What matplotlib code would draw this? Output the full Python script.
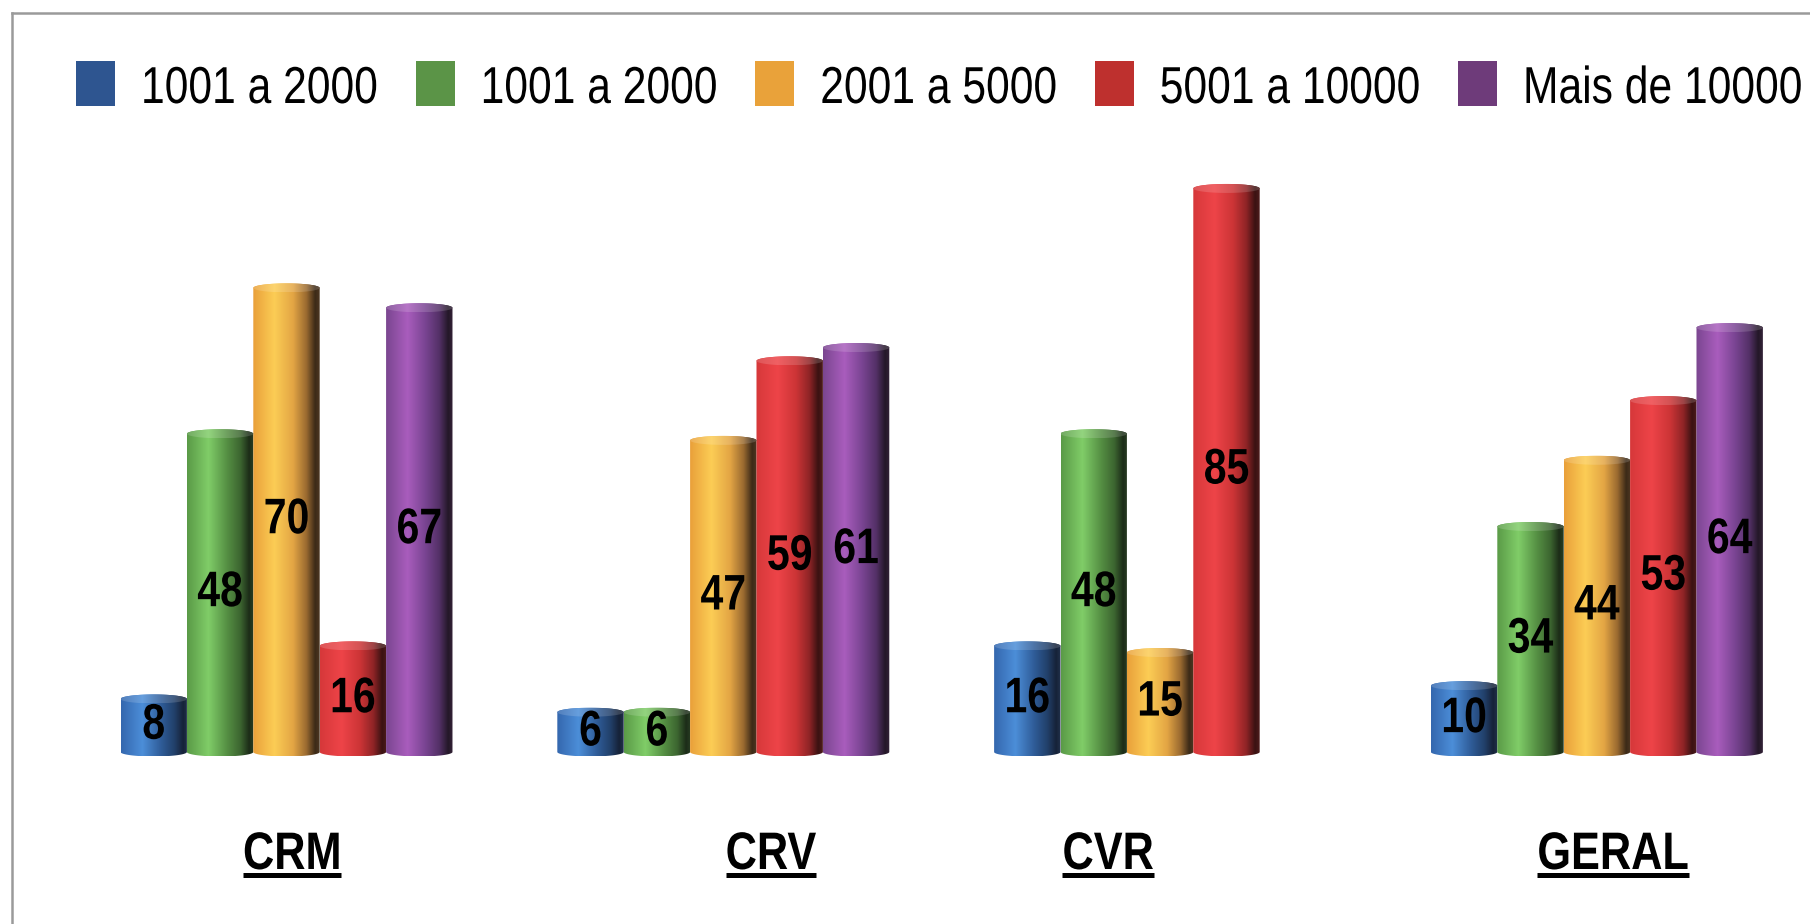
import numpy as np
import matplotlib
matplotlib.use("Agg")
import matplotlib.pyplot as plt
from matplotlib import font_manager
from matplotlib.font_manager import FontProperties
from matplotlib.path import Path
from matplotlib.patches import PathPatch, Rectangle
from matplotlib.lines import Line2D
from matplotlib.colors import to_rgb
from matplotlib.patheffects import AbstractPathEffect
from matplotlib.transforms import Affine2D

# ---- data -------------------------------------------------------------
categories = ["CRM", "CRV", "CVR", "GERAL"]
series_labels = ["1001 a 2000", "1001 a 2000", "2001 a 5000", "5001 a 10000", "Mais de 10000"]
v_1001_2000_a = [8, 6, 16, 10]
v_1001_2000_b = [48, 6, 48, 34]
v_2001_5000 = [70, 47, 15, 44]
v_5001_10000 = [16, 59, 85, 53]
v_mais_10000 = [67, 61, None, 64]
series_values = [v_1001_2000_a, v_1001_2000_b, v_2001_5000, v_5001_10000, v_mais_10000]

# ---- style ------------------------------------------------------------
legend_colors = ["#2E5590", "#5B9447", "#E9A23A", "#BE302E", "#6E3B7A"]
# horizontal shading of each cylinder: (position, colour) stops
shading = [
    [(0.0, "#3467AE"), (0.32, "#4C8ED8"), (0.6, "#2F5C98"), (0.8, "#22406A"), (0.93, "#162238"), (1.0, "#22324C")],
    [(0.0, "#5A9A47"), (0.32, "#80CD68"), (0.6, "#558F43"), (0.8, "#3C6530"), (0.93, "#1C2C18"), (1.0, "#2A3E24")],
    [(0.0, "#E9A03A"), (0.32, "#FCCD55"), (0.6, "#E3A544"), (0.8, "#9A6A30"), (0.93, "#3C2A18"), (1.0, "#4E3822")],
    [(0.0, "#D6383A"), (0.32, "#EE4448"), (0.6, "#CC3436"), (0.8, "#8E2426"), (0.93, "#3A1212"), (1.0, "#4E1C1C")],
    [(0.0, "#7A4690"), (0.32, "#A95DBD"), (0.6, "#774390"), (0.8, "#533066"), (0.93, "#241828"), (1.0, "#342238")],
]
label_shift = [0.013, 0.109, -0.119, 0.037]

# Narrow sans face; without one, a smaller Liberation Sans is drawn with
# taller glyphs so that it keeps the proportions of a narrow face.
available = {f.name for f in font_manager.fontManager.ttflist}
family, narrow = "Liberation Sans", 0.82
for cand in ["Liberation Sans Narrow", "Arial Narrow"]:
    if cand in available:
        family, narrow = cand, 1.0
        break


class TallGlyphs(AbstractPathEffect):
    """Stretch glyph outlines vertically about the text baseline."""

    def __init__(self, k):
        super().__init__()
        self.k = k

    def draw_path(self, renderer, gc, tpath, affine, rgbFace=None):
        renderer.draw_path(gc, tpath, Affine2D().scale(1, self.k) + affine, rgbFace)


tall = [TallGlyphs(1 / narrow)]


def font(size, weight="normal"):
    return FontProperties(family=family, weight=weight, size=size * narrow)


W, H = 1810, 924
fig = plt.figure(figsize=(W / 100, H / 100), dpi=100)
ax = fig.add_axes([0, 0, 1, 1])
ax.set_axis_off()

group_px, unit_px = 436.8, 6.63
x0_px, zero_px = 286.5, 752.0
xlim = (-x0_px / group_px, (W - x0_px) / group_px)
ylim = (-(H - zero_px) / unit_px, zero_px / unit_px)

bar_w = 0.152
ell = 4.5 / unit_px  # half-height of the cylinder ellipses


def profile(stops, lighten=0.0, n=256):
    pos = np.array([s[0] for s in stops])
    cols = np.array([to_rgb(s[1]) for s in stops])
    t = np.linspace(0, 1, n)
    img = np.stack([np.interp(t, pos, cols[:, k]) for k in range(3)], axis=-1)
    img = img + (1 - img) * lighten
    return img[np.newaxis, :, :]


def cylinder_path(xl, xr, top, e, n=48):
    xc, a = (xl + xr) / 2, (xr - xl) / 2
    t1 = np.linspace(np.pi, 2 * np.pi, n)
    bottom = np.column_stack([xc + a * np.cos(t1), e * np.sin(t1)])
    t2 = np.linspace(0, np.pi, n)
    upper = np.column_stack([xc + a * np.cos(t2), top + e * np.sin(t2)])
    verts = np.vstack([bottom, upper, bottom[:1]])
    codes = [Path.MOVETO] + [Path.LINETO] * (len(verts) - 2) + [Path.CLOSEPOLY]
    return Path(verts, codes)


def ellipse_path(xc, yc, a, e, n=64):
    t = np.linspace(0, 2 * np.pi, n)
    verts = np.column_stack([xc + a * np.cos(t), yc + e * np.sin(t)])
    codes = [Path.MOVETO] + [Path.LINETO] * (n - 2) + [Path.CLOSEPOLY]
    return Path(verts, codes)


value_font = font(36, "bold")
label_drop = 13.3 / unit_px  # baseline sits below the bar's mid-height
for j, vals in enumerate(series_values):
    body = profile(shading[j])
    cap = profile(shading[j], lighten=0.15)
    for g, v in enumerate(vals):
        if v is None:
            continue
        xc = g + (j - 2) * bar_w
        xl, xr = xc - bar_w / 2, xc + bar_w / 2
        im = ax.imshow(body, extent=[xl, xr, -ell, v + ell], aspect="auto",
                       interpolation="bilinear", origin="lower", zorder=2)
        clip = PathPatch(cylinder_path(xl, xr, v, ell), transform=ax.transData,
                         facecolor="none", edgecolor="none")
        ax.add_patch(clip)
        im.set_clip_path(clip)
        im2 = ax.imshow(cap, extent=[xl, xr, v - ell, v + ell], aspect="auto",
                        interpolation="bilinear", origin="lower", zorder=3)
        clip2 = PathPatch(ellipse_path(xc, v, bar_w / 2, ell), transform=ax.transData,
                          facecolor="none", edgecolor="none")
        ax.add_patch(clip2)
        im2.set_clip_path(clip2)
        ax.text(xc, v / 2 - label_drop, f"{v}", ha="center", va="baseline",
                fontproperties=value_font, color="black", zorder=5,
                path_effects=tall)

ax.set_xlim(*xlim)
ax.set_ylim(*ylim)

renderer = fig.canvas.get_renderer()

# category names, bold and underlined
cat_font = font(38, "bold")
baseline = -(869 - zero_px) / unit_px
under_y = -(874.5 - zero_px) / unit_px
inv = ax.transData.inverted()
for g, name in enumerate(categories):
    t = ax.text(g + label_shift[g], baseline, name, ha="center", va="baseline",
                fontproperties=cat_font, color="black", zorder=5,
                path_effects=tall)
    bb = t.get_window_extent(renderer)
    (xa, _), (xb, _) = inv.transform([(bb.x0, bb.y0), (bb.x1, bb.y0)])
    ax.plot([xa, xb], [under_y, under_y], color="black", lw=3.6,
            solid_capstyle="butt", zorder=5)

# legend row: colour key followed by its label
legend_font = font(37.4)
key_w, key_top, key_bottom = 39, 61, 106
text_pad, item_gap, text_base = 26, 38, 103
x = 76.0
for color, label in zip(legend_colors, series_labels):
    fig.add_artist(Rectangle((x / W, 1 - key_bottom / H), key_w / W,
                             (key_bottom - key_top) / H, transform=fig.transFigure,
                             facecolor=color, edgecolor="none"))
    t = fig.text((x + key_w + text_pad) / W, 1 - text_base / H, label,
                 ha="left", va="baseline", fontproperties=legend_font,
                 color="black", path_effects=tall)
    bb = t.get_window_extent(renderer)
    x = bb.x1 + item_gap

# chart frame (top and left edges)
fig.add_artist(Line2D([12 / W, 1], [1 - 13 / H] * 2, transform=fig.transFigure,
                      color="#9A9A9A", lw=1.8))
fig.add_artist(Line2D([12 / W] * 2, [1 - 13 / H, 0], transform=fig.transFigure,
                      color="#9A9A9A", lw=1.8))

fig.savefig("out.png", dpi=100, facecolor="white")
